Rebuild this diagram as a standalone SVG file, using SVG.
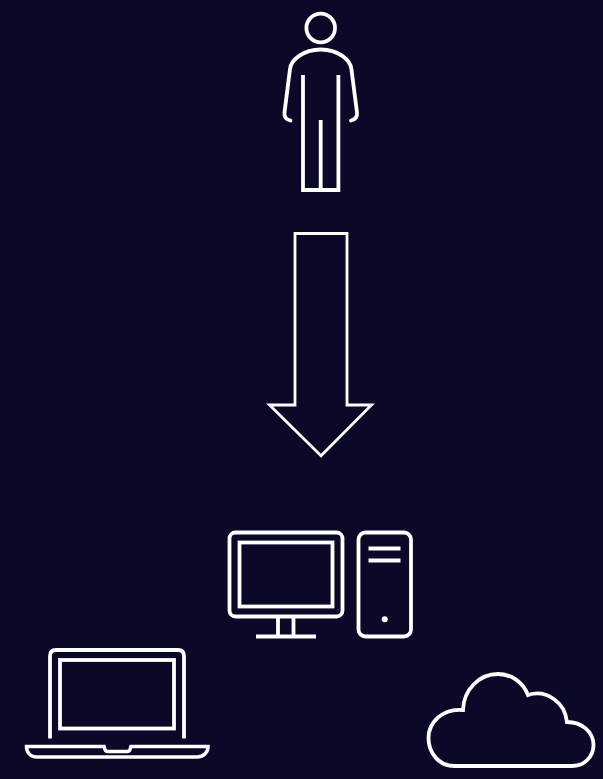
<svg xmlns="http://www.w3.org/2000/svg" width="603" height="779" viewBox="0 0 603 779">
<style>
.s{fill:none;stroke:#fff;stroke-width:3.800}
.r{stroke-linecap:round}
</style>
<rect width="603" height="779" fill="#0a0928"/>
<g id="connectors">
<path d="M295,233.500H347V405H371.500L321,455.700L269.500,405H295Z" fill="none" stroke="#fff" stroke-width="2.800"/>
</g>
<g id="person" class="s">
<circle cx="320.700" cy="28" r="14.300"/>
<path d="M290.500,120.500C286,119.500 284,117 284.500,112.500L290,69C291,60 303,49.500 320.700,49.500C338.400,49.500 350.400,60 351.400,69L357,112.500C357.500,117 355.400,119.500 351,120.500" class="r"/>
<path d="M303,75V190H338.400V75M320.700,120V190"/>
</g>
<g id="desktop" class="s">
<rect x="229.500" y="532.500" width="113" height="84" rx="6"/>
<rect x="239.500" y="542.500" width="93" height="64"/>
<path d="M278,617V636.500M293.500,617V636.500M256,636.500H316"/>
<rect x="358.500" y="532.500" width="52.500" height="104" rx="7"/>
<path d="M368.500,548.500H400.500M368.500,560.500H400.500"/>
<circle cx="384.700" cy="619.300" r="3" fill="#fff" stroke="none"/>
</g>
<g id="laptop" class="s">
<path d="M50,738.500V656C50,652 52,650 56,650H178C182,650 184,652 184,656V738.500"/>
<rect x="60" y="660" width="114" height="68.500"/>
<path d="M26.500,746.500H104L105,749.500C105.500,751 106.500,751.500 108,751.500H127C128.500,751.500 129.500,751 130,749.500L131,746.500H208C208,752 204,757 197,757H37C30,757 26.500,752 26.500,746.500Z" stroke-width="3.500"/>
</g>
<g id="cloud" class="s">
<path d="M463,710C463.500,690 479,674 498,674C511,674 523,682 528,695C546,689 565,702 567,722C582,722 593.500,732 593.500,745C593.500,757 584,766 572,766H454C439,766 428.500,753 428.500,738C428.500,722 443,708 463,710Z"/>
</g>
</svg>
